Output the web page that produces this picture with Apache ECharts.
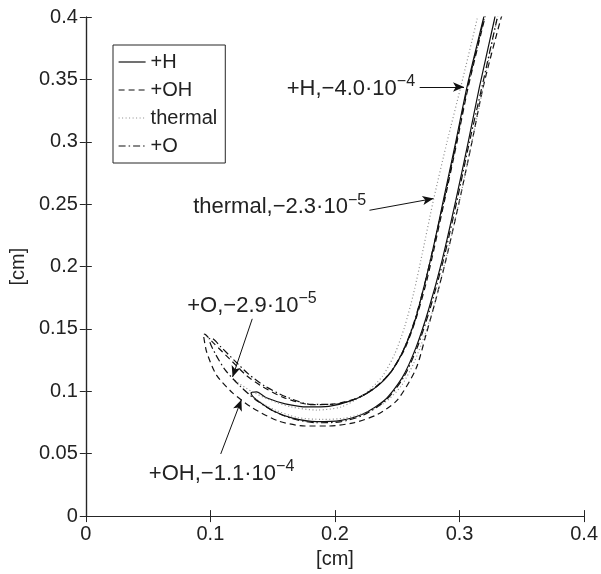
<!DOCTYPE html>
<html>
<head>
<meta charset="utf-8">
<script src="https://cdn.jsdelivr.net/npm/echarts@6/dist/echarts.min.js"></script>
<style>
html, body { margin: 0; padding: 0; background: #fff; }
#main { width: 601px; height: 574px; }
</style>
</head>
<body>
<div id="main"></div>
<script>
// contours: outer branch from top, round the tip, inner branch back up
var plusH = [
  [0.330, 0.41], [0.328, 0.398], [0.316, 0.344], [0.307, 0.30], [0.297, 0.253], [0.286, 0.205],
  [0.275, 0.165], [0.265, 0.135], [0.254, 0.111], [0.240, 0.093], [0.223, 0.082], [0.204, 0.0765],
  [0.185, 0.0757], [0.166, 0.0785], [0.151, 0.084], [0.140, 0.091], [0.134, 0.096], [0.1326, 0.0986],
  [0.137, 0.0995], [0.145, 0.0948], [0.160, 0.090], [0.178, 0.0875], [0.195, 0.088], [0.213, 0.0925],
  [0.229, 0.1005], [0.243, 0.113], [0.254, 0.131], [0.264, 0.156], [0.273, 0.19], [0.280, 0.22],
  [0.287, 0.253], [0.297, 0.30], [0.306, 0.344], [0.319, 0.398], [0.322, 0.41]
];
var plusOH = [
  [0.337, 0.41], [0.333, 0.398], [0.319, 0.344], [0.310, 0.30], [0.300, 0.253], [0.289, 0.205],
  [0.280, 0.17], [0.273, 0.145], [0.265, 0.118], [0.250, 0.093], [0.234, 0.0814], [0.2156, 0.0749],
  [0.1945, 0.0722], [0.176, 0.0722], [0.155, 0.0761], [0.1338, 0.0867], [0.118, 0.0986], [0.1049, 0.113],
  [0.097, 0.1315], [0.0943, 0.146],
  [0.096, 0.1455], [0.1022, 0.139], [0.1154, 0.126], [0.1286, 0.113], [0.1417, 0.1038], [0.160, 0.0946],
  [0.1813, 0.0893], [0.1997, 0.0899], [0.218, 0.0946], [0.232, 0.103], [0.245, 0.1155], [0.256, 0.134],
  [0.265, 0.158], [0.274, 0.19], [0.288, 0.253], [0.298, 0.30], [0.307, 0.344], [0.320, 0.398], [0.323, 0.41]
];
var thermal = [
  [0.316, 0.41], [0.314, 0.398], [0.301, 0.344], [0.290, 0.30], [0.279, 0.253], [0.270, 0.21],
  [0.263, 0.178], [0.256, 0.152], [0.248, 0.13], [0.238, 0.112], [0.224, 0.098], [0.205, 0.0875],
  [0.185, 0.085], [0.165, 0.0875], [0.148, 0.093], [0.133, 0.100], [0.122, 0.107], [0.118, 0.110],
  [0.124, 0.104], [0.136, 0.094], [0.152, 0.085], [0.170, 0.079], [0.190, 0.0775], [0.208, 0.0785],
  [0.225, 0.083], [0.240, 0.091], [0.253, 0.104], [0.263, 0.122], [0.272, 0.145], [0.280, 0.17],
  [0.290, 0.21], [0.300, 0.253], [0.310, 0.30], [0.319, 0.344], [0.330, 0.398], [0.333, 0.41]
];
var plusO = [
  [0.333, 0.41], [0.330, 0.398], [0.318, 0.344], [0.308, 0.30], [0.298, 0.253], [0.287, 0.205],
  [0.276, 0.165], [0.266, 0.135], [0.255, 0.111], [0.241, 0.093], [0.223, 0.081], [0.204, 0.0755],
  [0.185, 0.0748], [0.166, 0.078], [0.150, 0.0845], [0.136, 0.0935], [0.124, 0.104], [0.112, 0.117],
  [0.104, 0.130], [0.099, 0.142],
  [0.101, 0.1425], [0.108, 0.136], [0.119, 0.125], [0.131, 0.1135], [0.144, 0.104], [0.161, 0.0955],
  [0.181, 0.0895], [0.199, 0.0895], [0.217, 0.094], [0.231, 0.102], [0.244, 0.1145], [0.255, 0.133],
  [0.264, 0.157], [0.273, 0.19], [0.2875, 0.253], [0.2975, 0.30], [0.3065, 0.344], [0.3195, 0.398], [0.3225, 0.41]
];

var names = ['+H', '+OH', 'thermal', '+O'];
var contours = [plusH, plusOH, thermal, plusO];
var dashes = ['solid', [6, 4], [1, 2.5], [7, 3, 1.5, 3]];
var colors = ['#111', '#111', '#8a8a8a', '#111'];

// annotations: text anchor (left, middle) and arrow start/tip, in data units
var noteText = [
  ['+H,\u22124.0\u00b710', '\u22124'],
  ['thermal,\u22122.3\u00b710', '\u22125'],
  ['+O,\u22122.9\u00b710', '\u22125'],
  ['+OH,\u22121.1\u00b710', '\u22124']
];
var noteAt = [[0.1613, 0.3423], [0.0862, 0.2474], [0.0814, 0.1684], [0.0506, 0.034]];
var arrowFrom = [[0.268, 0.3439], [0.2277, 0.2451], [0.1336, 0.1581], [0.1083, 0.0498]];
var arrowTo = [[0.3036, 0.3439], [0.2791, 0.2545], [0.1178, 0.1115], [0.1249, 0.0933]];

var font = 'Liberation Sans, Arial, Helvetica, sans-serif';
var ink = '#222';

var myChart = echarts.init(document.getElementById('main'), null, { renderer: 'canvas' });

var series = contours.map(function (c, i) {
  return {
    name: names[i],
    type: 'line',
    data: c,
    showSymbol: false,
    symbol: 'none',
    smooth: 0.25,
    clip: true,
    lineStyle: { color: colors[i], width: 1.2, type: dashes[i] },
    itemStyle: { color: colors[i] },
    z: 3
  };
});

series.push({
  type: 'line',
  data: [],
  silent: true,
  markLine: {
    silent: true,
    symbol: ['none', 'arrow'],
    symbolSize: [7, 11],
    label: { show: false },
    lineStyle: { color: '#111', width: 1, type: 'solid' },
    data: arrowFrom.map(function (p, i) {
      return [{ coord: p }, { coord: arrowTo[i] }];
    })
  }
});

var axisCommon = {
  type: 'value',
  min: 0,
  max: 0.4,
  axisLine: { show: true, lineStyle: { color: '#262626', width: 1.2 } },
  axisTick: { show: true, inside: true, length: 6, lineStyle: { color: '#262626' } },
  splitLine: { show: false }
};

myChart.setOption({
  animation: false,
  backgroundColor: '#fff',
  textStyle: { fontFamily: font },
  grid: { left: 84, right: 11, top: 17, bottom: 51, containLabel: false },
  legend: {
    orient: 'vertical',
    left: 113,
    top: 45,
    data: names,
    itemWidth: 27,
    itemHeight: 20,
    itemGap: 8,
    padding: [7, 8, 7, 5],
    backgroundColor: '#fff',
    borderColor: '#262626',
    borderWidth: 1,
    borderRadius: 0,
    itemStyle: { opacity: 0 },
    lineStyle: { width: 1.2 },
    textStyle: { fontSize: 20, color: ink, fontFamily: font },
    selectedMode: false
  },
  xAxis: [
    Object.assign({}, axisCommon, {
      position: 'bottom',
      interval: 0.1,
      name: '[cm]',
      nameLocation: 'middle',
      nameGap: 31,
      nameTextStyle: { fontSize: 20, color: ink },
      axisLabel: { fontSize: 20, color: ink, margin: 8 }
    }),
    Object.assign({}, axisCommon, {
      position: 'top',
      interval: 0.1,
      axisLabel: { show: false }
    })
  ],
  yAxis: [
    Object.assign({}, axisCommon, {
      position: 'left',
      interval: 0.05,
      name: '[cm]',
      nameLocation: 'middle',
      nameGap: 52,
      nameTextStyle: { fontSize: 20, color: ink },
      axisLabel: { fontSize: 20, color: ink, margin: 8 }
    }),
    Object.assign({}, axisCommon, {
      position: 'right',
      interval: 0.05,
      axisLabel: { show: false }
    })
  ],
  series: series
});

// annotation texts with raised exponents, placed from data coordinates
var graphics = noteText.map(function (t, i) {
  var p = myChart.convertToPixel({ gridIndex: 0 }, noteAt[i]);
  return {
    type: 'text',
    x: p[0],
    y: p[1] - 2,
    z: 10,
    style: {
      text: '{b|' + t[0] + '}{s|' + t[1] + '}',
      fontFamily: font,
      fill: ink,
      align: 'left',
      verticalAlign: 'middle',
      rich: {
        b: { fontSize: 22, fontFamily: font, fill: ink, verticalAlign: 'bottom', lineHeight: 26 },
        s: { fontSize: 16, fontFamily: font, fill: ink, verticalAlign: 'top', lineHeight: 12, padding: [0, 0, 18, 0] }
      }
    }
  };
});
myChart.setOption({ graphic: graphics });

window.addEventListener('resize', function () {
  myChart.resize();
});
</script>
</body>
</html>
